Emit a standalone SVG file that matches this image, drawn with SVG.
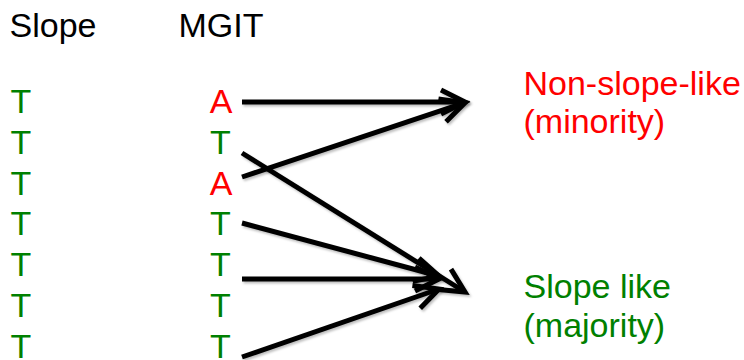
<svg xmlns="http://www.w3.org/2000/svg" width="744" height="360" viewBox="0 0 744 360">
<style>
text{font-family:"Liberation Sans",Arial,sans-serif;font-size:34px}
.k{fill:#000}
.g{fill:#008000}
.r{fill:#ff0000}
.c{text-anchor:middle}
.ln{stroke:#000;stroke-width:5;fill:none;marker-end:url(#ah);filter:url(#sh)}
</style>
<defs>
<marker id="ah" markerUnits="userSpaceOnUse" markerWidth="40" markerHeight="40" refX="0" refY="0" viewBox="-30 -20 40 40" orient="auto" overflow="visible">
<path d="M-24,-12 L0,0 L-24,12" fill="none" stroke="#000" stroke-width="5" stroke-linejoin="miter"/>
</marker>
<filter id="sh" filterUnits="userSpaceOnUse" x="0" y="0" width="744" height="360">
<feDropShadow dx="1.5" dy="2" stdDeviation="1.2" flood-color="#000" flood-opacity="0.25"/>
</filter>
</defs>
<g id="headers">
<text class="k" x="9.5" y="37">Slope</text>
<text class="k" x="178.5" y="37">MGIT</text>
</g>
<g id="slope-col">
<text class="g" x="10.5" y="113.3">T</text>
<text class="g" x="10.5" y="154">T</text>
<text class="g" x="10.5" y="194.7">T</text>
<text class="g" x="10.5" y="235.4">T</text>
<text class="g" x="10.5" y="276.1">T</text>
<text class="g" x="10.5" y="316.8">T</text>
<text class="g" x="10.5" y="357.5">T</text>
</g>
<g id="mgit-col">
<text class="r c" x="221" y="113.3">A</text>
<text class="g c" x="220.5" y="154">T</text>
<text class="r c" x="221" y="194.7">A</text>
<text class="g c" x="220.5" y="235.4">T</text>
<text class="g c" x="220.5" y="276.1">T</text>
<text class="g c" x="220.5" y="316.8">T</text>
<text class="g c" x="220.5" y="357.5">T</text>
</g>
<g id="connectors">
<line class="ln" x1="242" y1="102" x2="465" y2="102"/>
<line class="ln" x1="242" y1="177" x2="465" y2="102.7"/>
<line class="ln" x1="242" y1="153" x2="465" y2="292"/>
<line class="ln" x1="242" y1="223" x2="439" y2="276"/>
<line class="ln" x1="242" y1="279" x2="439" y2="279"/>
<line class="ln" x1="242" y1="357" x2="439" y2="289"/>
</g>
<g id="minority">
<text class="r" x="523.5" y="95">Non-slope-like</text>
<text class="r" x="523.5" y="132.5">(minority)</text>
</g>
<g id="majority">
<text class="g" x="523.5" y="298">Slope like</text>
<text class="g" x="523.5" y="337">(majority)</text>
</g>
</svg>
